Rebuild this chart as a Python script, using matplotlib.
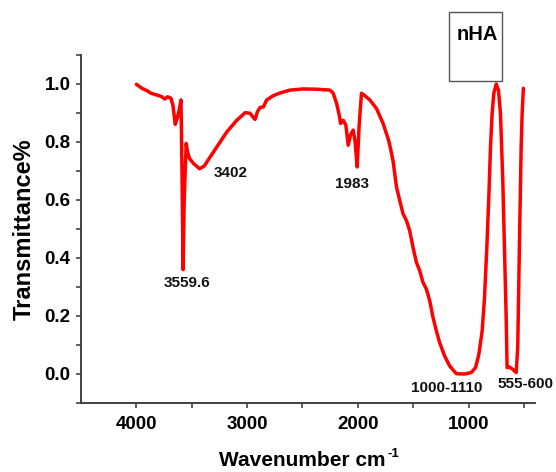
import matplotlib
matplotlib.use("Agg")
import matplotlib.pyplot as plt
from matplotlib.patches import Rectangle

plt.rcParams['font.family'] = ['Liberation Sans', 'DejaVu Sans']
plt.rcParams['font.weight'] = 'bold'

wavenumber = [4000, 3949, 3904, 3868, 3814, 3769, 3745, 3718, 3688, 3670,
              3649, 3628, 3610, 3597, 3588, 3578, 3568, 3550, 3538, 3520,
              3484, 3430, 3387, 3333, 3273, 3183, 3093, 3018, 2973, 2949,
              2928, 2907, 2883, 2853, 2823, 2763, 2703, 2613, 2493, 2372,
              2252, 2222, 2192, 2168, 2156, 2132, 2108, 2087, 2066, 2042,
              2024, 2006, 1988, 1967, 1937, 1892, 1832, 1772, 1727, 1712,
              1682, 1651, 1622, 1592, 1561, 1532, 1502, 1471, 1441, 1412,
              1381, 1351, 1321, 1291, 1261, 1216, 1171, 1111, 1036, 976,
              937, 907, 877, 856, 835, 817, 802, 787, 772, 750,
              730, 712, 691, 676, 661, 652, 631, 601, 570, 556,
              541, 525, 516, 505]
transmittance = [0.999, 0.985, 0.977, 0.968, 0.962, 0.956, 0.948, 0.956, 0.951, 0.927,
                 0.861, 0.887, 0.916, 0.945, 0.70, 0.36, 0.60, 0.795, 0.766, 0.743,
                 0.726, 0.708, 0.717, 0.749, 0.783, 0.835, 0.875, 0.901, 0.899, 0.887,
                 0.878, 0.904, 0.919, 0.921, 0.945, 0.96, 0.969, 0.979, 0.983, 0.982,
                 0.979, 0.968, 0.933, 0.893, 0.864, 0.875, 0.858, 0.789, 0.824, 0.841,
                 0.80, 0.714, 0.858, 0.968, 0.96, 0.945, 0.916, 0.864, 0.812, 0.790,
                 0.735, 0.645, 0.599, 0.553, 0.529, 0.495, 0.437, 0.385, 0.356, 0.316,
                 0.293, 0.253, 0.195, 0.149, 0.108, 0.062, 0.028, 0.001, 0.0, 0.005,
                 0.022, 0.068, 0.149, 0.264, 0.437, 0.61, 0.783, 0.899, 0.968, 1.0,
                 0.979, 0.899, 0.668, 0.437, 0.207, 0.022, 0.024, 0.016, 0.005, 0.091,
                 0.437, 0.783, 0.899, 0.985]

peak_labels = ["3402", "3559.6", "1983", "1000-1110", "555-600"]
legend_label = "nHA"

fig = plt.figure(figsize=(5.56, 4.72), dpi=100)
ax = fig.add_axes([81/556, 1 - 403/472, (535-81)/556, (403-55)/472])
ax.plot(wavenumber, transmittance, color='#ff0000', lw=2.5,
        solid_joinstyle='round', solid_capstyle='round')

ax.set_xlim(4500, 400)
ax.set_ylim(-0.1, 1.1)
ax.set_xticks([4000, 3000, 2000, 1000])
ax.set_xticks([3500, 2500, 1500, 500], minor=True)
ax.set_yticks([0.0, 0.2, 0.4, 0.6, 0.8, 1.0])
ax.set_yticks([-0.1, 0.1, 0.3, 0.5, 0.7, 0.9, 1.1], minor=True)
ax.set_yticklabels(['0.0', '0.2', '0.4', '0.6', '0.8', '1.0'])
for s in ['top', 'right']:
    ax.spines[s].set_visible(False)
for s in ['left', 'bottom']:
    ax.spines[s].set_linewidth(1.3)
    ax.spines[s].set_color('#333333')
ax.tick_params(which='both', direction='out', length=3.5, width=1.1, color='#333333')
ax.tick_params(axis='both', which='major', labelsize=13.5)
ax.tick_params(axis='x', pad=6)
ax.tick_params(axis='y', pad=4)

xl = ax.set_xlabel('Wavenumber cm', fontsize=15, fontweight='bold')
ax.xaxis.set_label_coords((302.5 - 81) / 454, (403 - 451) / 348)
ax.annotate('-1', xy=(1, 1), xycoords=xl, xytext=(1.5, 2.5), textcoords='offset points',
            fontsize=9.5, fontweight='bold', ha='left', va='top')
ax.set_ylabel('Transmittance%', fontsize=17, fontweight='bold', labelpad=6)

pos = [(3149, 0.692), (3545, 0.313), (2050, 0.656), (1194, -0.047), (486, -0.036)]
for lab, (x, y) in zip(peak_labels, pos):
    ax.text(x, y, lab, fontsize=11, fontweight='bold', ha='center', va='center', color='#111111')

fig.patches.append(Rectangle((449/556, 1 - 81/472), 53/556, 69/472, transform=fig.transFigure,
                             fill=False, edgecolor='#555555', lw=1.0))
fig.text(477/556, 1 - 34.5/472, legend_label, fontsize=14.5, fontweight='bold', ha='center', va='center')

fig.savefig('out.png', dpi=100)
